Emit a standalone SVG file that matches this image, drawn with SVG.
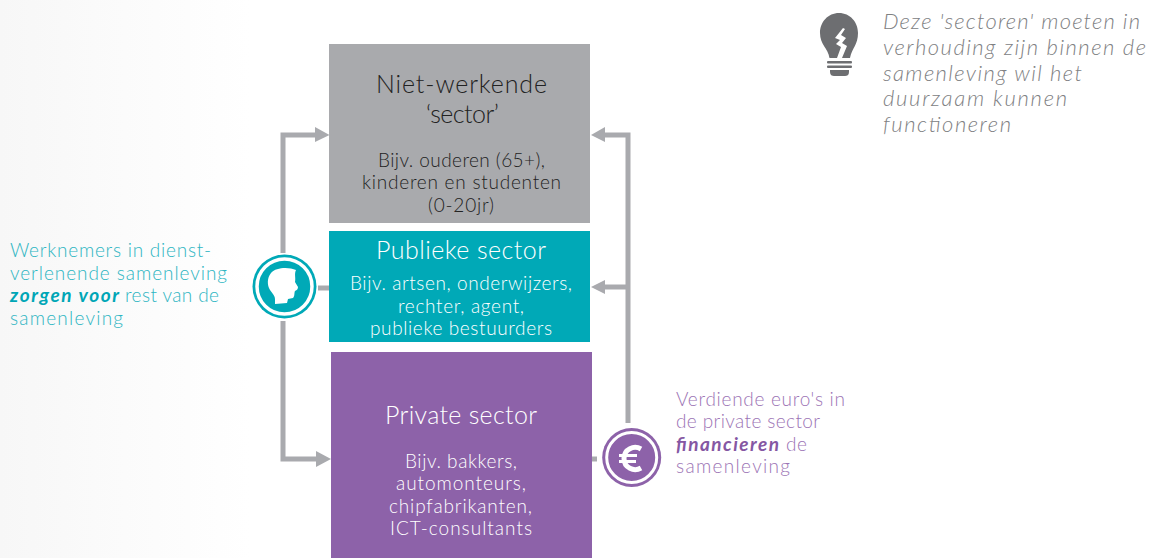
<svg xmlns="http://www.w3.org/2000/svg" width="1155" height="558" viewBox="0 0 1155 558">
<style>
text{font-family:"Lato","Open Sans","Liberation Sans",sans-serif;font-weight:300}
.c{text-anchor:middle}
.w{fill:#fff}
.d{fill:#222}
.s16{font-size:19px}
.s22{font-size:25px}
.teal{fill:#2db5c2;font-size:19px}
.tealb{fill:#00a6b6;font-weight:700;font-style:italic;font-size:19px}
.pur{fill:#9c74b5;font-size:19px}
.purb{fill:#8557a3;font-weight:700;font-style:italic;font-size:19px}
.note{fill:#808183;font-size:22px;font-style:italic}
.ln{fill:none;stroke:#a9aaae;stroke-width:5}
.ah{fill:#a9aaae}
</style>
<defs>
<linearGradient id="bg" x1="0" x2="1" y1="0" y2="0"><stop offset="0" stop-color="#f7f7f7"/><stop offset="1" stop-color="#fff"/></linearGradient>
</defs>
<rect width="250" height="558" fill="url(#bg)"/>
<g id="connectors">
<path class="ln" d="M283 253V135H318"/>
<path class="ah" d="M315 127L329.500 135L315 142Z"/>
<path class="ln" d="M283 321V459H320"/>
<path class="ah" d="M316 451L331 459L316 467Z"/>
<path class="ln" d="M318 288H329"/>
<path class="ln" d="M628 423V135H602"/>
<path class="ah" d="M605 127L591 135L605 142Z"/>
<path class="ln" d="M628 287H602"/>
<path class="ah" d="M605 280L591 287L605 294Z"/>
<path class="ln" d="M592 459H597"/>
</g>
<g id="niet-werkend">
<rect x="329" y="44" width="261" height="179" fill="#a9aaad"/>
<text class="c d s22" x="461.500" y="93" textLength="171">Niet-werkende</text>
<text class="c d s22" x="462.500" y="122.500" textLength="73">‘sector’</text>
<text class="c d s16" x="461.500" y="167" textLength="167">Bijv. ouderen (65+),</text>
<text class="c d s16" x="461.500" y="189" textLength="199">kinderen en studenten</text>
<text class="c d s16" x="461" y="211.500" textLength="66">(0-20jr)</text>
</g>
<g id="publiek">
<rect x="329" y="231" width="261" height="111" fill="#00a9b7"/>
<text class="c w s22" x="461" y="258.500" textLength="170">Publieke sector</text>
<text class="c w s16" x="461" y="290" textLength="222">Bijv. artsen, onderwijzers,</text>
<text class="c w s16" x="461" y="313" textLength="126">rechter, agent,</text>
<text class="c w s16" x="461" y="335" textLength="182">publieke bestuurders</text>
</g>
<g id="privaat">
<rect x="331" y="352" width="261" height="206" fill="#8d62a9"/>
<text class="c w s22" x="461" y="423.500" textLength="152">Private sector</text>
<text class="c w s16" x="461" y="468" textLength="112">Bijv. bakkers,</text>
<text class="c w s16" x="461" y="490" textLength="130">automonteurs,</text>
<text class="c w s16" x="460.500" y="513" textLength="143">chipfabrikanten,</text>
<text class="c w s16" x="461" y="535" textLength="142">ICT-consultants</text>
</g>
<g id="werknemers-icon">
<circle cx="284.500" cy="286.500" r="32" fill="#00a9b7"/>
<circle cx="284.500" cy="286.500" r="27.500" fill="#00a9b7" stroke="#fff" stroke-width="3.500"/>
<path fill="#fff" d="M296 270C289 267 276 267 271 273C267 278 267 285 270 290C273 294 275 296 275 299L275 304L287 303L288 299L293 298C295 296 294 293 295 291C297 290 298 289 298 287L295 282C296 278 294 274 296 270Z"/>
</g>
<g id="euro-icon">
<circle cx="631.700" cy="457.500" r="29.500" fill="#8d62a9"/>
<circle cx="631.700" cy="457.500" r="25" fill="#8d62a9" stroke="#fff" stroke-width="3"/>
<path fill="none" stroke="#fff" stroke-width="5" d="M641 449C634 445 624 449 624 458.500C624 468 634 472 641 468"/>
<path fill="none" stroke="#fff" stroke-width="3.200" d="M619 455.500H637M619 461.500H636"/>
</g>
<g id="bulb-icon">
<path fill="#6d6e71" d="M839 13C828 13 820 22 820 33C820 45 828 48 829.500 58H850C852 48 858 45 858 33C858 22 850 13 839 13Z"/>
<path fill="#fff" d="M843 28L835 38L840 40L836 44L841 47L837 58H842L847 46L842 43L846 38L841 35L845 29Z"/>
<rect x="827" y="61" width="25" height="2.500" rx="1" fill="#6d6e71"/>
<rect x="827" y="65.500" width="25" height="2.500" rx="1" fill="#6d6e71"/>
<path fill="#6d6e71" d="M830 70H849V72C849 75 847 76 845 76H834C832 76 830 75 830 72Z"/>
</g>
<g id="note">
<text class="note" x="883" y="29" textLength="257">Deze 'sectoren' moeten in</text>
<text class="note" x="883" y="55" textLength="263">verhouding zijn binnen de</text>
<text class="note" x="883" y="81" textLength="199">samenleving wil het</text>
<text class="note" x="883" y="106" textLength="184">duurzaam kunnen</text>
<text class="note" x="883" y="132" textLength="128">functioneren</text>
</g>
<g id="werknemers-label">
<text class="teal" x="10" y="257" textLength="201">Werknemers in dienst-</text>
<text class="teal" x="10" y="280" textLength="217">verlenende samenleving</text>
<text class="tealb" x="10" y="302" textLength="109">zorgen voor</text>
<text class="teal" x="125" y="302" textLength="94">rest van de</text>
<text class="teal" x="10" y="325" textLength="113">samenleving</text>
</g>
<g id="euro-label">
<text class="pur" x="676" y="406" textLength="169">Verdiende euro's in</text>
<text class="pur" x="676" y="428" textLength="144">de private sector</text>
<text class="purb" x="676" y="451" textLength="103">financieren</text>
<text class="pur" x="786" y="451" textLength="21">de</text>
<text class="pur" x="676" y="473" textLength="114">samenleving</text>
</g>
</svg>
